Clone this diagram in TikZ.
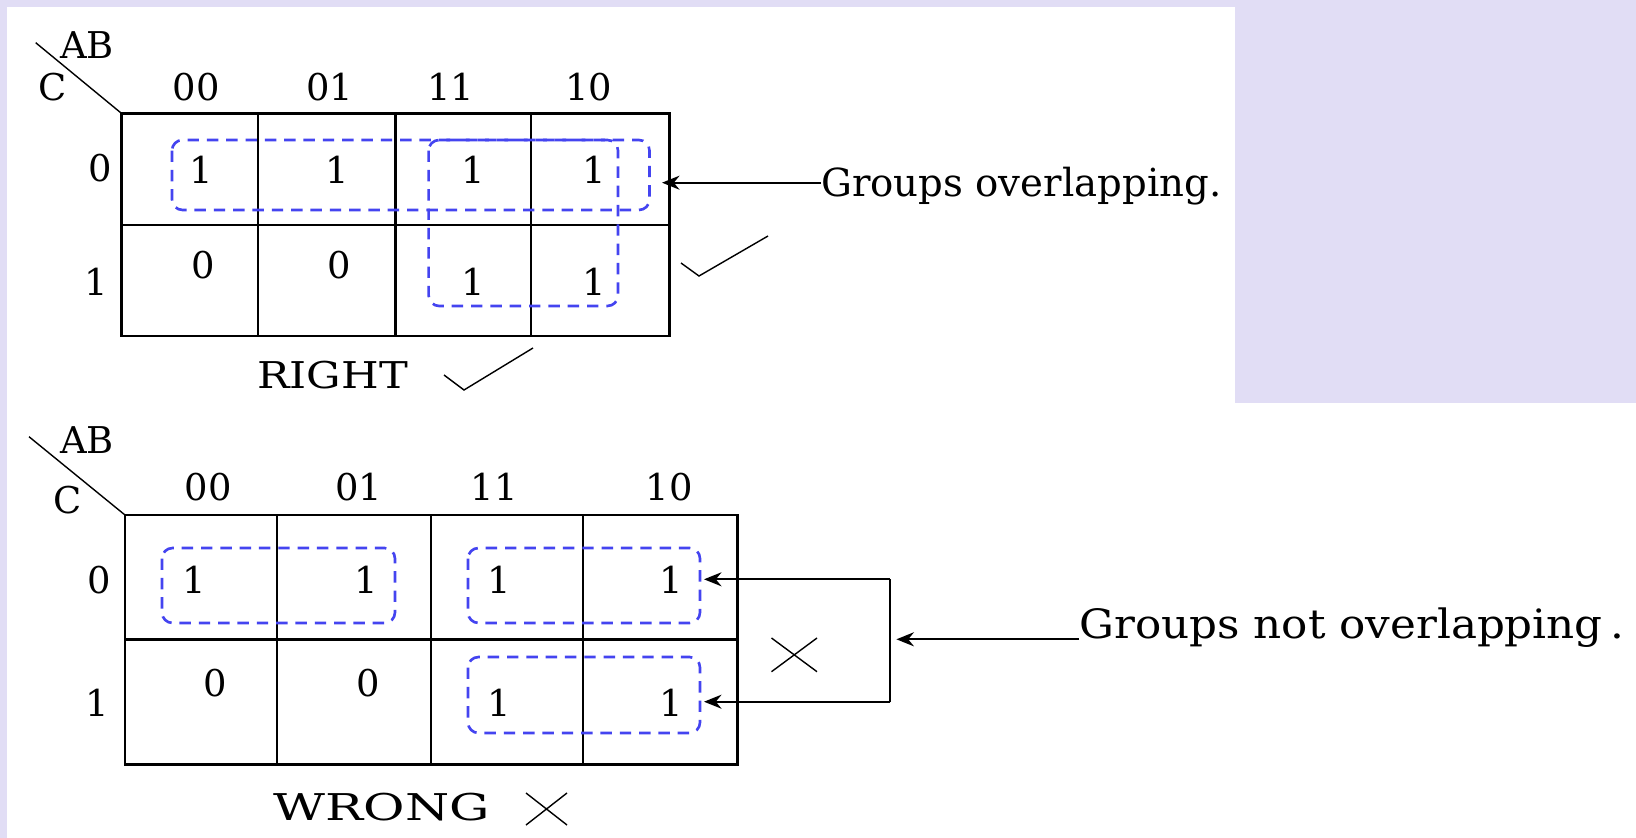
\documentclass[tikz,border=0pt]{standalone}
\usepackage{fontspec}
\usepackage{graphicx}
\setmainfont{DejaVu Serif}
\usetikzlibrary{arrows.meta,positioning}
\definecolor{PageLilac}{HTML}{E1DDF5}
\definecolor{GroupBlue}{HTML}{4444F0}
\tikzset{%
  kgrid/.style={draw=black,line width=1.5pt},
  kval/.style={font=\fontsize{21}{24}\selectfont,inner sep=0pt},
  note/.style={font=\fontsize{22}{26}\selectfont,inner sep=0pt,anchor=base west},
  group/.style={draw=GroupBlue,line width=1.5pt,dash pattern=on 6.5pt off 4.5pt,rounded corners=6pt},
  pointer/.style={-{Stealth[length=3.5mm,width=2.8mm]},line width=1.3pt},
  thinline/.style={line width=0.8pt}
}

\begin{document}
\begin{tikzpicture}[x=0.02cm,y=-0.02cm]
      % page
      \fill[PageLilac] (0,0) rectangle (1636,838);
      \fill[white] (7,7) rectangle (1636,838);
      \fill[PageLilac] (1235,0) rectangle (1636,402.7);

      % upper map
      \draw[kgrid] (121.4,113.3) rectangle (669.6,336);
      \draw[kgrid] (121.4,225) -- (669.6,225);
      \foreach \x in {258,395.5,531}
        \draw[kgrid] (\x,113.3) -- (\x,336);
      \draw[thinline] (35.7,42.7) -- (121.4,113.3);
      \node[kval] (tAB) at (87,45) {AB};
      \node[kval] (tC) at (52.7,87.3) {C};
      \foreach \x/\t [count=\i] in {196.4/00,330/01,451/11,589/10}
        \node[kval] (thead\i) at (\x,87.3) {\t};
      \node[kval] (trow0) at (100.4,168) {0};
      \node[kval] (trow1) at (96,281.7) {1};
      \foreach \x/\y/\v [count=\i] in {201/170/1,337/170/1,473/170/1,594/170/1,
          203/265/0,339/265/0,473/282/1,594/282/1}
        \node[kval] (tcell\i) at (\x,\y) {\v};
      \draw[group] (172,140) rectangle (649.5,210);
      \draw[group] (428.6,140) rectangle (618,306);
      \node[note] (tnote) at (821,196.7) {Groups overlapping.};
      \coordinate (ttip) at (662,182.7);
      \draw[pointer] (tnote.west |- ttip) -- (ttip);
      \draw[thinline] (681,263) -- (699,276) -- (768,236);
      \node[kval] (tright) at (332.6,375) {\scalebox{1.17}[1]{RIGHT}};
      \draw[thinline] (444,375) -- (464,390) -- (533,348);

      % lower map
      \draw[kgrid] (125,515) rectangle (737.7,764.3);
      \draw[kgrid] (125,639.3) -- (737.7,639.3);
      \foreach \x in {277,431,583}
        \draw[kgrid] (\x,515) -- (\x,764.3);
      \draw[thinline] (29,436.7) -- (125,515);
      \node[kval] (bAB) at (87,440) {AB};
      \node[kval] (bC) at (68,500) {C};
      \foreach \x/\t [count=\i] in {208.4/00,358.7/01,494.4/11,669/10}
        \node[kval] (bhead\i) at (\x,486.7) {\t};
      \node[kval] (brow0) at (99.4,580) {0};
      \node[kval] (brow1) at (97,703) {1};
      \foreach \x/\y/\v [count=\i] in {194/580/1,366/580/1,499/580/1,671/580/1,
          215.7/683/0,368/683/0,499/703/1,671/703/1}
        \node[kval] (bcell\i) at (\x,\y) {\v};
      \draw[group] (162,548) rectangle (395,623);
      \draw[group] (468,548) rectangle (700,623);
      \draw[group] (468,657) rectangle (700,733);
      \node[note,font=\fontsize{23}{27}\selectfont] (bnote) at (1079,638)
        {\scalebox{1.08}[1]{Groups not overlapping\,.}};
      \coordinate (bmid) at (896.4,639.3);
      \coordinate (bup) at (890.3,579.3);
      \coordinate (bdown) at (890.3,701.7);
      \coordinate (uptip) at (704,579.3);
      \coordinate (downtip) at (704,701.7);
      \draw[pointer] (bnote.west |- bmid) -- (bmid);
      \draw[line width=1.3pt] (bup) -- (bdown);
      \draw[pointer] (bup) -- (uptip);
      \draw[pointer] (bdown) -- (downtip);
      \draw[thinline] (771.5,638) -- (817,671.7) (771.5,671.7) -- (817,638);
      \node[kval] (bwrong) at (382,807.5) {\scalebox{1.37}[1]{WRONG}};
      \draw[thinline] (526,793) -- (567,825) (526,825) -- (567,793);
\end{tikzpicture}
\end{document}
